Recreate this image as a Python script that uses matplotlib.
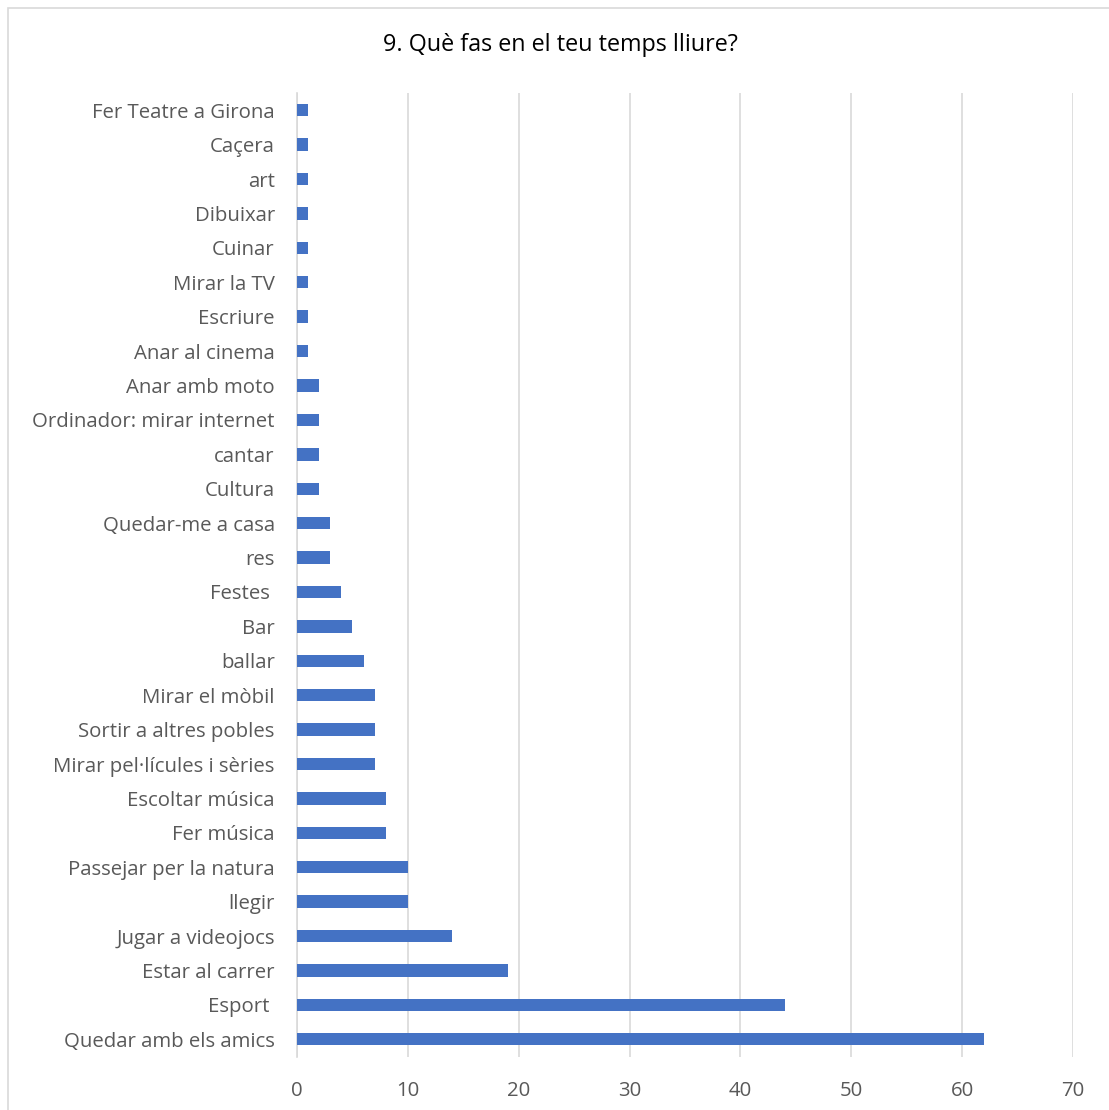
import matplotlib
matplotlib.use("Agg")
import matplotlib.pyplot as plt
from matplotlib.patches import Rectangle

plt.rcParams['font.family'] = ['Open Sans', 'DejaVu Sans']

# categories from bottom to top
activities = [
    "Quedar amb els amics", "Esport ", "Estar al carrer", "Jugar a videojocs",
    "llegir", "Passejar per la natura", "Fer música", "Escoltar música",
    "Mirar pel·lícules i sèries", "Sortir a altres pobles", "Mirar el mòbil",
    "ballar", "Bar", "Festes ", "res", "Quedar-me a casa", "Cultura", "cantar",
    "Ordinador: mirar internet", "Anar amb moto", "Anar al cinema", "Escriure",
    "Mirar la TV", "Cuinar", "Dibuixar", "art", "Caçera", "Fer Teatre a Girona",
]
counts = [62, 44, 19, 14, 10, 10, 8, 8, 7, 7, 7, 6, 5, 4, 3, 3, 2, 2, 2, 2,
          1, 1, 1, 1, 1, 1, 1, 1]
xticks = [0, 10, 20, 30, 40, 50, 60, 70]

W, H = 1109, 1110
fig = plt.figure(figsize=(W / 100, H / 100), dpi=100)
ax = fig.add_axes([297 / W, 1 - 1056.5 / H, (1073 - 297) / W, (1056.5 - 93) / H])

txt = '#595959'
ax.barh(range(len(activities)), counts, height=0.36, color='#4472C4', zorder=3)
ax.set_ylim(-0.5, len(activities) - 0.5)
ax.set_xlim(0, 70)
ax.set_xticks(xticks)
ax.set_yticks(range(len(activities)))
ax.set_yticklabels(activities)
ax.tick_params(axis='both', length=0, labelsize=14.7, colors=txt)
ax.tick_params(axis='y', pad=16)
ax.tick_params(axis='x', pad=18)
ax.grid(axis='x', color='#d9d9d9', linewidth=1.2, zorder=0)
for s in ['top', 'right', 'bottom']:
    ax.spines[s].set_visible(False)
ax.spines['left'].set_color('#d9d9d9')
ax.spines['left'].set_linewidth(1.2)

fig.text(560 / W, 1 - 45 / H, "9. Què fas en el teu temps lliure?", ha='center',
         va='center', fontsize=16.8, color='#000000')

# chart frame
fig.patches.append(Rectangle((8 / W, -0.1), 1.2, 1 - 8 / H + 0.1,
                             transform=fig.transFigure, fill=False,
                             edgecolor='#d9d9d9', linewidth=1.2))

fig.savefig("out.png", dpi=100)
